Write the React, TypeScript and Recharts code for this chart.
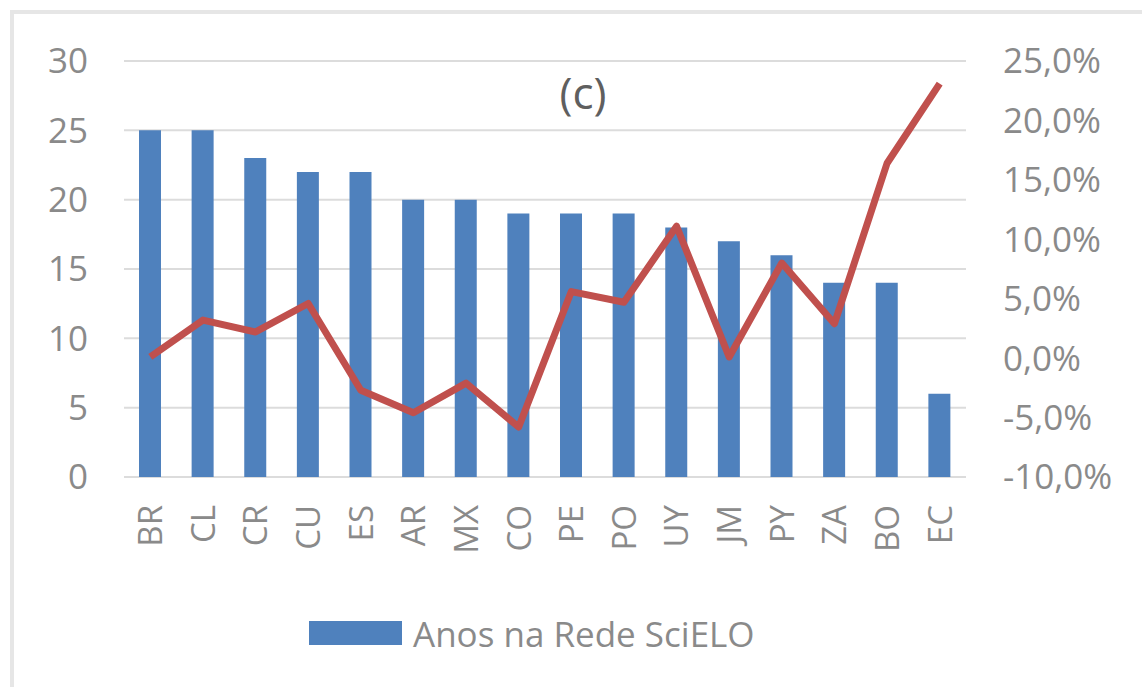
import React from "react";
import {
  Bar,
  CartesianGrid,
  ComposedChart,
  Line,
  XAxis,
  YAxis,
} from "recharts";

const countries = ["BR", "CL", "CR", "CU", "ES", "AR", "MX", "CO", "PE", "PO", "UY", "JM", "PY", "ZA", "BO", "EC"];
const yearsInNetwork = [25, 25, 23, 22, 22, 20, 20, 19, 19, 19, 18, 17, 16, 14, 14, 6];
const growthPct = [0.1, 3.2, 2.2, 4.6, -2.7, -4.6, -2.1, -5.8, 5.6, 4.7, 11.1, 0.1, 8.0, 2.9, 16.4, 23.1];
const leftTicks = [0, 5, 10, 15, 20, 25, 30];
const rightTicks = [-10, -5, 0, 5, 10, 15, 20, 25];

const data = countries.map((c, i) => ({
  country: c,
  anos: yearsInNetwork[i],
  growth: growthPct[i],
}));

const FONT = "'Open Sans', 'Noto Sans', sans-serif";
const GREY = "#8a8a8a";

const fmtPct = (v: number) => `${v.toFixed(1).replace(".", ",")}%`;

function CountryTick({ x, payload }: any) {
  const ty = 505;
  return (
    <text
      x={x}
      y={ty}
      transform={`rotate(-90, ${x}, ${ty})`}
      textAnchor="end"
      dy="0.36em"
      fill={GREY}
      fontSize={33}
      fontFamily={FONT}
    >
      {payload.value}
    </text>
  );
}

export default function App() {
  return (
    <div
      style={{
        position: "absolute",
        left: 0,
        top: 0,
        width: 1142,
        height: 687,
        background: "#fff",
        overflow: "hidden",
        fontFamily: FONT,
      }}
    >
      <div style={{ position: "absolute", left: 10, top: 10, width: 1132, height: 4, background: "#e6e6e6" }} />
      <div style={{ position: "absolute", left: 10, top: 10, width: 4, height: 677, background: "#e6e6e6" }} />

      <div style={{ position: "absolute", top: 0, left: 0 }}>
        <ComposedChart
          width={1142}
          height={687}
          data={data}
          margin={{ top: 61, right: 26, left: 0, bottom: 110 }}
        >
          <CartesianGrid yAxisId="left" vertical={false} stroke="#dcdcdc" strokeWidth={2} />
          <XAxis
            dataKey="country"
            height={100}
            axisLine={false}
            tickLine={false}
            interval={0}
            tick={<CountryTick />}
          />
          <YAxis
            yAxisId="left"
            width={124}
            domain={[0, 30]}
            ticks={leftTicks}
            axisLine={false}
            tickLine={false}
            tickSize={0}
            tickMargin={36}
            tick={{ fill: GREY, fontSize: 35, fontFamily: FONT }}
          />
          <YAxis
            yAxisId="right"
            orientation="right"
            width={150}
            domain={[-10, 25]}
            ticks={rightTicks}
            tickFormatter={fmtPct}
            axisLine={false}
            tickLine={false}
            tickSize={0}
            tickMargin={37}
            tick={{ fill: GREY, fontSize: 35, fontFamily: FONT, textAnchor: "start" }}
          />
          <Bar
            yAxisId="left"
            dataKey="anos"
            name="Anos na Rede SciELO"
            fill="#4f81bd"
            barSize={22}
            isAnimationActive={false}
          />
          <Line
            yAxisId="right"
            dataKey="growth"
            type="linear"
            stroke="#c0504d"
            strokeWidth={7}
            strokeLinejoin="round"
            dot={false}
            activeDot={false}
            isAnimationActive={false}
          />
        </ComposedChart>
      </div>

      <div
        style={{
          position: "absolute",
          left: 533,
          top: 62,
          width: 100,
          textAlign: "center",
          fontSize: 44,
          lineHeight: "60px",
          color: "#5f5f5f",
        }}
      >
        (c)
      </div>

      <div
        style={{
          position: "absolute",
          left: 309,
          top: 612,
          display: "flex",
          alignItems: "center",
          height: 42,
        }}
      >
        <div style={{ width: 93, height: 24, background: "#4f81bd", marginRight: 11 }} />
        <span style={{ fontSize: 35, color: GREY, whiteSpace: "nowrap" }}>Anos na Rede SciELO</span>
      </div>
    </div>
  );
}
